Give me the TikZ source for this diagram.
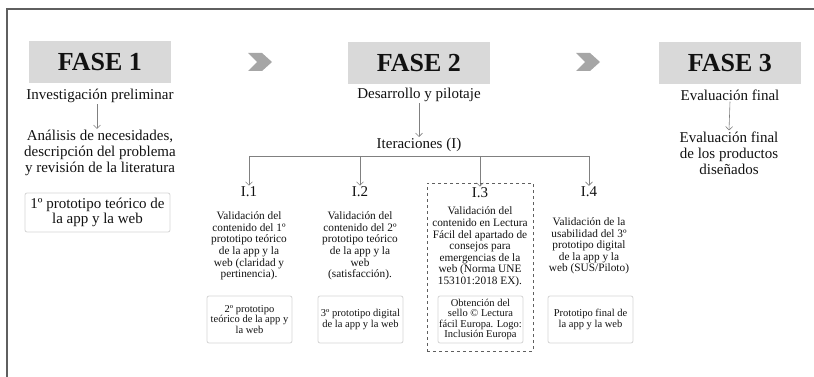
\documentclass[tikz,border=0pt]{standalone}
\usepackage{fontspec}
\setmainfont{Liberation Serif}
\usetikzlibrary{arrows.meta}
\definecolor{faseg}{HTML}{D9D9D9}
\definecolor{chevg}{HTML}{A6A6A6}
\definecolor{boxg}{HTML}{D4D4D4}
\definecolor{arrg}{HTML}{808080}
\definecolor{frameg}{HTML}{5F5F5F}
\definecolor{txt}{HTML}{111111}
\begin{document}
\begin{tikzpicture}[x=1pt,y=-1pt,
 every node/.style={text=txt},
 fase/.style={fill=faseg, minimum width=142pt, minimum height=42pt, font=\fontsize{26}{28}\selectfont\bfseries, inner sep=0pt},
 sub/.style={font=\fontsize{15}{16}\selectfont, align=center, inner sep=1pt},
 small/.style={font=\fontsize{11.3}{11.6}\selectfont, align=center, inner sep=0pt},
 prod/.style={draw=boxg, line width=0.8pt, rounded corners=2pt, minimum width=85pt, minimum height=47pt, align=center, font=\fontsize{10.5}{10.5}\selectfont, inner sep=1pt},
 arr/.style={draw=arrg, line width=0.6pt, -{Straight Barb[length=3.5pt,width=7pt]}},
 bar/.style={draw=arrg, line width=0.6pt},
 chev/.style={fill=chevg, draw=none},
 dashbox/.style={draw=frameg, dashed, line width=0.9pt, minimum width=106pt, minimum height=168pt, inner sep=0pt},
 frame/.style={draw=frameg, line width=2pt}
]
\useasboundingbox (0,0) rectangle (814,377);
\draw[frame] (7,377) -- (7,9) -- (814,9);

% Phase headers
\node[fase] (f1) at (100,62) {FASE 1};
\node[fase] (f2) at (419,63) {FASE 2};
\node[fase] (f3) at (730,63) {FASE 3};

% chevrons
\fill[chev] (248,53) -- (262,53) -- (272,62) -- (262,71) -- (248,71) -- (257,62) -- cycle;
\fill[chev] (576,53) -- (590,53) -- (600,62) -- (590,71) -- (576,71) -- (585,62) -- cycle;

% Phase 1
\node[sub] (s1) at (100,96) {Investigación preliminar};
\node[sub] (a1) at (100,153) {Análisis de necesidades,\\descripción del problema\\y revisión de la literatura};
\draw[arr] ([xshift=-3pt]s1.south) -- ([xshift=-3pt]a1.north);
\node[draw=boxg, line width=0.8pt, rounded corners=2pt, minimum width=145pt, minimum height=39pt, align=center, font=\fontsize{15}{15.5}\selectfont, inner sep=1pt] (p1) at (97.5,212.5) {1º prototipo teórico de\\la app y la web};

% Phase 2
\node[sub] (s2) at (419,95) {Desarrollo y pilotaje};
\node[sub] (it) at (419,145) {Iteraciones (I)};
\draw[arr] (s2.south) -- (it.north);

\node[sub] (i1) at (249,192) {I.1};
\node[sub] (i2) at (360,192) {I.2};
\node[sub] (i3) at (480,193) {I.3};
\node[sub] (i4) at (589,192) {I.4};

\coordinate (c1) at (249,156);
\coordinate (c2) at (360,156);
\coordinate (c3) at (480,156);
\coordinate (c4) at (589,156);
\draw[bar] (c1) -- (c4);
\draw[arr] (c1) -- (i1.north);
\draw[arr] (c2) -- (i2.north);
\draw[arr] (c3) -- (i3.north);
\draw[arr] (c4) -- (i4.north);

\node[small] (t1) at (249,246) {Validación del\\contenido del 1º\\prototipo teórico\\de la app y la\\web (claridad y\\pertinencia).};
\node[small] (t2) at (360,246) {Validación del\\contenido del 2º\\prototipo teórico\\de la app y la\\web\\(satisfacción).};
\node[small] (t3) at (480,247) {Validación del\\contenido en Lectura\\Fácil del apartado de\\consejos para\\emergencias de la\\web (Norma UNE\\153101:2018 EX).};
\node[small] (t4) at (589,246) {Validación de la\\usabilidad del 3º\\prototipo digital\\de la app y la\\web (SUS/Piloto)};

\node[prod] (b1) at (249.5,319.5) {2º prototipo\\teórico de la app y\\la web};
\node[prod] (b2) at (360.5,319.5) {3º prototipo digital\\de la app y la web};
\node[prod] (b3) at (480.5,319.5) {Obtención del\\sello © Lectura\\fácil Europa. Logo:\\Inclusión Europa};
\node[prod] (b4) at (590.5,319.5) {Prototipo final de\\la app y la web};

\node[dashbox] (d3) at (480,267) {};

% Phase 3
\node[sub] (s3) at (730,95) {Evaluación final};
\node[sub] (e3) at (729,153) {Evaluación final\\de los productos\\diseñados};
\draw[arr] (s3.south) -- (e3.north);
\end{tikzpicture}
\end{document}
